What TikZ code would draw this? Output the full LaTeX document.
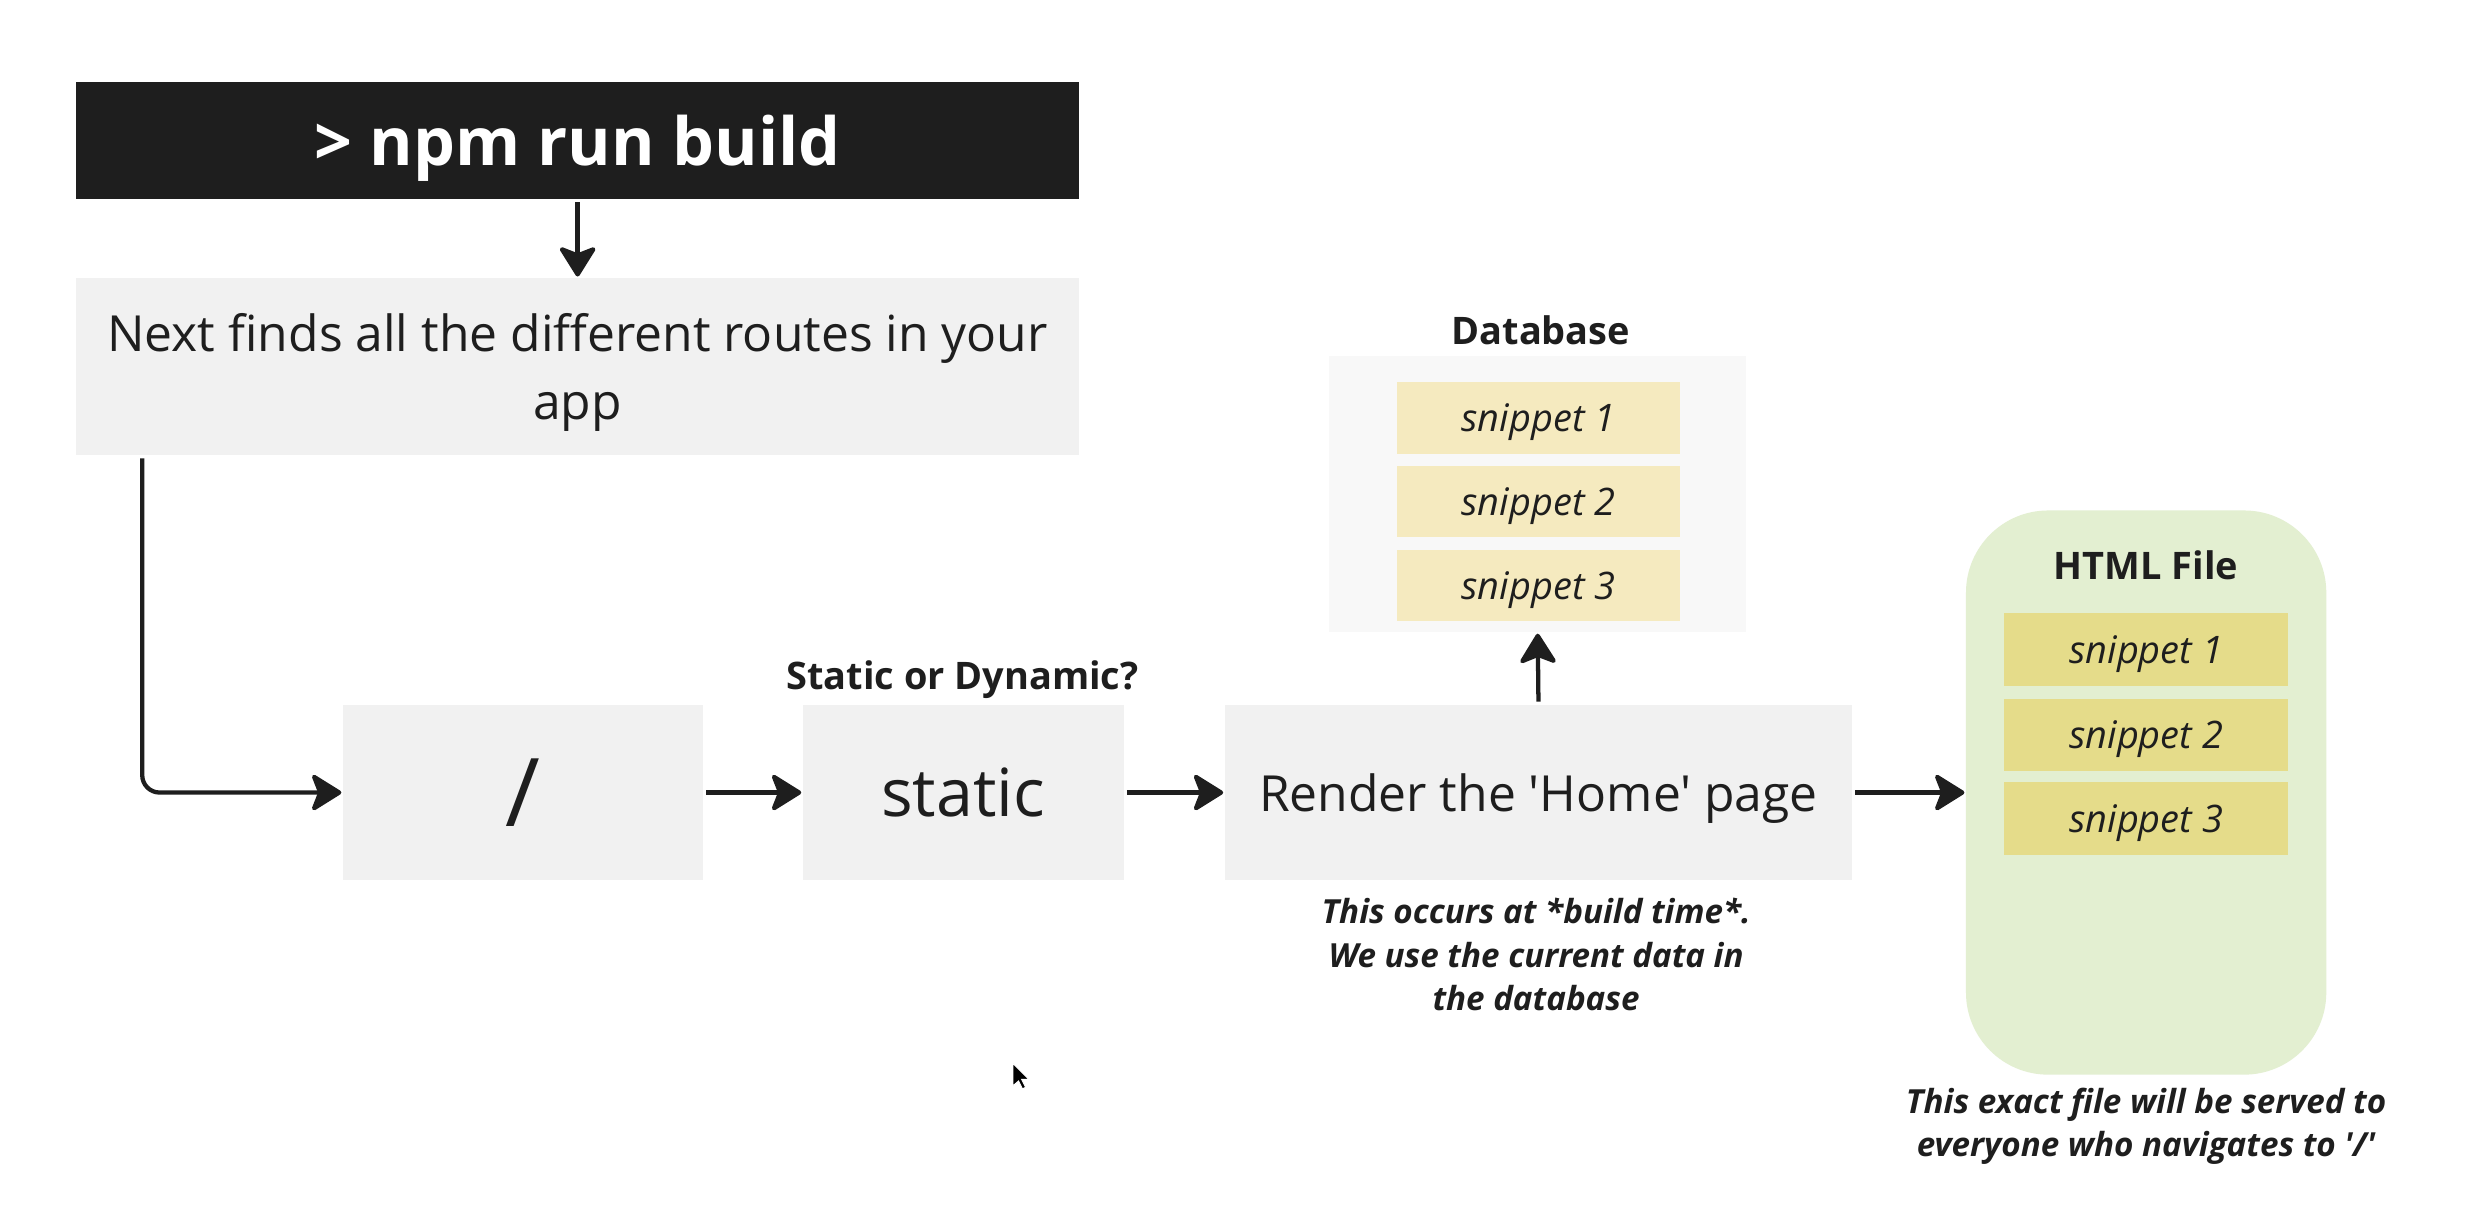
\documentclass[tikz,border=0pt]{standalone}
\usepackage{fontspec}
\setmainfont{Open Sans}
\newfontfamily\osq{Open Sans}
\usetikzlibrary{arrows.meta}
\definecolor{ink}{HTML}{1E1E1E}
\definecolor{boxgray}{HTML}{F1F1F1}
\definecolor{dbgray}{HTML}{F8F8F8}
\definecolor{dbsnip}{HTML}{F5EABF}
\definecolor{htmlgreen}{HTML}{E3EFD1}
\definecolor{htmlsnip}{HTML}{E5DC8A}
\tikzset{
  plain/.style={inner sep=0pt, outer sep=0pt, draw=none, text=ink, align=center},
  graybox/.style={plain, fill=boxgray},
  snipdb/.style={plain, fill=dbsnip, minimum width=179pt, minimum height=45pt, text depth=0pt,
    font=\itshape\fontsize{24}{30}\selectfont},
  sniphtml/.style={plain, fill=htmlsnip, minimum width=180pt, minimum height=46pt, text depth=0pt,
    font=\itshape\fontsize{24}{30}\selectfont},
  title/.style={plain, font=\bfseries\fontsize{24}{30}\selectfont},
  caption/.style={plain, font=\osq\bfseries\itshape\fontsize{21}{27.5}\selectfont},
  arr/.style={draw=ink, line width=2.7pt,
    -{Stealth[length=21pt, width=26pt, inset=5pt, round]},
    shorten <=2pt, shorten >=1pt},
}
\begin{document}
\begin{tikzpicture}[x=1pt,y=-1pt]
\fill[white] (0,0) rectangle (1568,775.8);
\useasboundingbox (0,0) rectangle (1568,775.8);

% top boxes
\node[plain, fill=ink, minimum width=635pt, minimum height=74pt, text=white, text depth=0pt,
  font=\bfseries\fontsize{42}{50}\selectfont] (npm) at (365.5,89) {> npm run build};
\node[graybox, minimum width=635pt, minimum height=112pt, text depth=0pt,
  font=\fontsize{31.5}{43}\selectfont] (next) at (365.5,232)
  {Next finds all the different routes in your\\app};

% middle row
\node[graybox, minimum width=228pt, minimum height=111pt,
  font=\fontsize{60}{70}\selectfont] (slash) at (331,501.5) {/};
\node[graybox, minimum width=203pt, minimum height=111pt,
  font=\fontsize{42}{50}\selectfont] (static) at (609.5,501.5) {static};
\node[title] (sdlabel) at (609,430) {Static or Dynamic?};
\node[graybox, minimum width=397pt, minimum height=111pt, text depth=0pt,
  font=\osq\fontsize{31.5}{43}\selectfont] (render) at (973.5,501.5) {Render the 'Home' page};
\node[caption] (cap1) at (972,604)
  {This occurs at *build time*.\\We use the current data in\\the database};

% database
\node[plain, fill=dbgray, minimum width=264pt, minimum height=175pt] (db) at (973,312.5) {};
\node[title] (dblabel) at (975,209) {Database};
\node[snipdb] (d1) at (973.5,264.5) {snippet 1};
\node[snipdb] (d2) at (973.5,317.5) {snippet 2};
\node[snipdb] (d3) at (973.5,370.5) {snippet 3};

% html file
\node[plain, fill=htmlgreen, rounded corners=52pt, minimum width=228pt, minimum height=357pt] (html) at (1358,501.5) {};
\node[title] (htmllabel) at (1358,358) {HTML File};
\node[sniphtml] (h1) at (1358,411) {snippet 1};
\node[sniphtml] (h2) at (1358,465) {snippet 2};
\node[sniphtml] (h3) at (1358,518) {snippet 3};
\node[caption, text depth=0pt] (cap2) at (1358,710)
  {This exact file will be served to\\everyone who navigates to '/'};

% connectors
\draw[arr] (npm.south) -- (next.north);
\draw[arr, rounded corners=11pt] ([xshift=42pt]next.south west) |- (slash.west);
\draw[arr] (slash.east) -- (static.west);
\draw[arr] (static.east) -- (render.west);
\draw[arr] (render.north) -- (db.south);
\draw[arr] (render.east) -- (html.west);

% mouse pointer
\fill[black, draw=white, line width=0.6pt] (641,673) -- (641,687) -- (644.5,684) -- (647,689) -- (649,688) -- (646.5,683) -- (651,683) -- cycle;
\end{tikzpicture}
\end{document}
